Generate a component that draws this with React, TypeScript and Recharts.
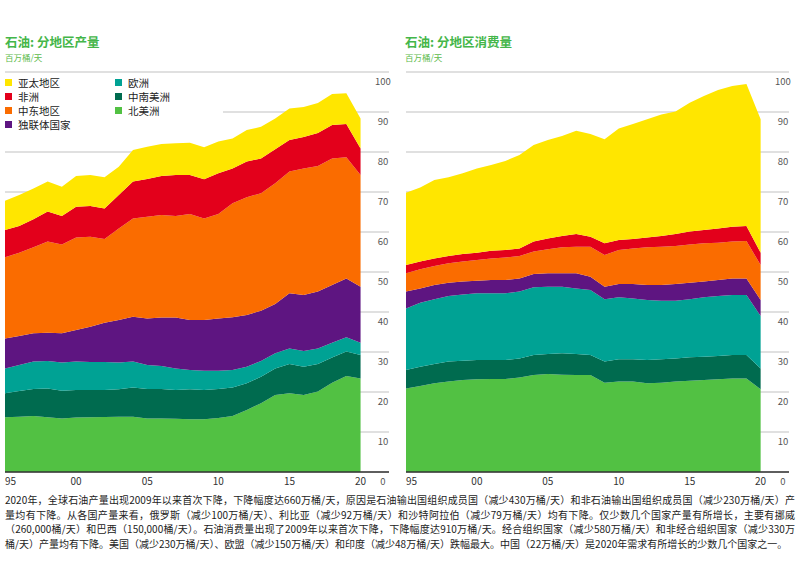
import React from 'react';
import { AreaChart, Area, XAxis, YAxis, CartesianGrid } from 'recharts';

// 1995 – 2020, million barrels per day
const years = [
  1995, 1996, 1997, 1998, 1999, 2000, 2001, 2002, 2003, 2004, 2005, 2006, 2007,
  2008, 2009, 2010, 2011, 2012, 2013, 2014, 2015, 2016, 2017, 2018, 2019, 2020,
];

const regions = ['北美洲', '中南美洲', '欧洲', '独联体国家', '中东地区', '非洲', '亚太地区'];
const regionKeys = ['na', 'sca', 'eu', 'cis', 'me', 'af', 'ap'];
const regionColors = ['#52c143', '#006b4f', '#00a294', '#5e1581', '#fa6c00', '#e3001b', '#ffe600'];

const prodNorthAmerica = [13.7, 13.8, 14.0, 13.7, 13.4, 13.6, 13.7, 13.75, 13.8, 13.8, 13.4, 13.4, 13.3, 13.2, 13.2, 13.5, 14.0, 15.5, 17.2, 19.25, 19.7, 19.25, 20.1, 22.3, 24.0, 23.4];
const prodSouthCentral = [6.0, 6.45, 6.75, 7.2, 6.9, 6.9, 6.8, 6.75, 6.9, 7.3, 7.35, 7.35, 7.2, 7.5, 7.3, 7.25, 7.1, 6.7, 6.6, 6.65, 7.3, 7.05, 6.9, 6.3, 6.1, 5.85];
const prodEurope = [6.2, 6.5, 6.85, 6.85, 7.1, 7.1, 7.0, 7.0, 6.7, 6.5, 6.0, 5.75, 5.4, 4.8, 4.8, 4.55, 4.4, 4.1, 3.95, 3.8, 3.9, 3.95, 3.9, 3.7, 3.6, 3.05];
const prodCis = [7.5, 7.25, 7.1, 7.05, 7.3, 7.9, 8.8, 9.8, 10.6, 11.2, 11.65, 12.1, 12.7, 12.5, 12.7, 13.1, 13.2, 12.95, 12.55, 12.3, 13.8, 14.0, 14.2, 14.45, 14.7, 14.0];
const prodMiddleEast = [20.3, 20.8, 21.5, 22.8, 22.2, 23.1, 22.5, 20.95, 22.9, 24.6, 25.4, 25.65, 25.4, 26.5, 25.4, 26.1, 28.5, 29.45, 29.4, 30.2, 30.4, 31.65, 31.4, 31.65, 30.3, 27.95];
const prodAfrica = [6.8, 6.7, 7.0, 7.5, 7.1, 7.7, 7.7, 7.65, 8.35, 9.2, 9.45, 9.75, 10.25, 9.75, 9.8, 10.2, 8.7, 8.9, 8.7, 8.5, 7.9, 7.85, 8.25, 8.35, 8.3, 6.65];
const prodAsiaPacific = [7.3, 7.75, 7.7, 7.5, 7.3, 7.7, 7.75, 7.8, 7.05, 7.9, 8.05, 8.0, 7.95, 8.05, 8.0, 7.9, 7.5, 7.9, 7.9, 7.7, 7.9, 7.5, 7.5, 7.75, 7.7, 7.5];

const consNorthAmerica = [20.9, 21.5, 22.2, 22.6, 23.0, 23.2, 23.25, 23.25, 23.6, 24.25, 24.5, 24.3, 24.25, 24.25, 22.3, 22.6, 22.6, 22.2, 22.3, 22.6, 22.8, 23.0, 23.2, 23.4, 23.4, 20.7];
const consSouthCentral = [4.6, 4.8, 4.8, 5.0, 4.8, 4.8, 4.75, 4.75, 4.8, 5.0, 5.0, 5.4, 5.25, 5.0, 5.3, 5.6, 5.6, 5.8, 5.9, 5.8, 5.9, 5.8, 5.8, 5.85, 5.85, 5.2];
const consEurope = [15.4, 16.0, 16.2, 16.4, 16.6, 16.7, 16.7, 16.7, 16.7, 16.95, 16.8, 16.6, 16.4, 16.25, 15.6, 15.5, 15.2, 15.0, 14.6, 14.4, 14.5, 14.9, 15.0, 15.0, 15.0, 13.1];
const consCis = [4.2, 3.6, 3.55, 3.3, 3.2, 3.1, 3.3, 3.3, 3.3, 3.3, 3.4, 3.4, 3.8, 3.3, 3.1, 3.3, 3.6, 3.75, 3.95, 4.2, 4.1, 3.9, 4.0, 4.15, 4.15, 4.0];
const consMiddleEast = [4.6, 4.8, 4.75, 4.9, 5.0, 5.2, 5.4, 5.6, 5.6, 5.6, 6.0, 6.5, 6.6, 7.5, 7.95, 8.5, 8.9, 9.45, 9.55, 9.5, 9.6, 9.6, 9.3, 9.2, 9.35, 8.75];
const consAfrica = [2.05, 1.9, 1.9, 1.8, 1.9, 1.8, 1.9, 1.9, 1.9, 2.5, 2.7, 2.8, 3.2, 2.5, 2.95, 2.5, 2.35, 2.4, 2.7, 3.0, 3.2, 3.3, 3.6, 3.7, 3.75, 3.05];
const consAsiaPacific = [18.05, 18.5, 19.6, 19.7, 20.2, 21.1, 21.45, 22.25, 23.35, 24.15, 24.6, 25.0, 25.8, 25.7, 26.0, 27.9, 28.75, 29.6, 30.4, 30.6, 32.2, 33.5, 34.6, 35.2, 35.5, 33.4];

const xTicks = [1995, 2000, 2005, 2010, 2015, 2020];
const yTicks = [0, 10, 20, 30, 40, 50, 60, 70, 80, 90, 100];

const legendLeft = ['亚太地区', '非洲', '中东地区', '独联体国家'];
const legendRight = ['欧洲', '中南美洲', '北美洲'];

const noteLines = [
  '2020年，全球石油产量出现2009年以来首次下降，下降幅度达660万桶/天，原因是石油输出国组织成员国（减少430万桶/天）和非石油输出国组织成员国（减少230万桶/天）产',
  '量均有下降。从各国产量来看，俄罗斯（减少100万桶/天）、利比亚（减少92万桶/天）和沙特阿拉伯（减少79万桶/天）均有下降。仅少数几个国家产量有所增长，主要有挪威',
  '（260,000桶/天）和巴西（150,000桶/天）。石油消费量出现了2009年以来首次下降，下降幅度达910万桶/天。经合组织国家（减少580万桶/天）和非经合组织国家（减少330万',
  '桶/天）产量均有下降。美国（减少230万桶/天）、欧盟（减少150万桶/天）和印度（减少48万桶/天）跌幅最大。中国（22万桶/天）是2020年需求有所增长的少数几个国家之一。',
];

const buildRows = (series: number[][]) =>
  years.map((year, i) => {
    const row: Record<string, number> = { year };
    regionKeys.forEach((k, j) => {
      row[k] = series[j][i];
    });
    return row;
  });

const productionData = buildRows([
  prodNorthAmerica, prodSouthCentral, prodEurope, prodCis, prodMiddleEast, prodAfrica, prodAsiaPacific,
]);
const consumptionData = buildRows([
  consNorthAmerica, consSouthCentral, consEurope, consCis, consMiddleEast, consAfrica, consAsiaPacific,
]);

const FONT = '"Noto Sans CJK SC", "Noto Sans", sans-serif';
const colorOf = (name: string) => regionColors[regions.indexOf(name)];

const XTick = (props: any) => {
  const { x, y, payload } = props;
  const first = payload.value === 1995;
  return (
    <text x={x} y={y} dy="0.71em" textAnchor={first ? 'start' : 'middle'} fontSize={10} fill="#333" fontFamily={FONT}>
      {String(payload.value).slice(2)}
    </text>
  );
};

// labels sit just under their gridline, near the right edge of the plot
const YTick = (props: any) => {
  const { y, payload, plotRight } = props;
  return (
    <text x={plotRight - 6} y={y + 9} dominantBaseline="central" textAnchor="middle" fontSize={9.5} fill="#555" fontFamily={FONT}>
      {payload.value}
    </text>
  );
};

const StackChart = ({ data, left }: { data: any[]; left: number }) => {
  const marginLeft = left ? 6 : 5;
  const marginRight = 11;
  const plotRight = 400 - marginRight;
  return (
    <div style={{ position: 'absolute', left, top: 0 }}>
      <AreaChart width={400} height={500} data={data} margin={{ top: 72, right: marginRight, left: marginLeft, bottom: 0 }}>
        <CartesianGrid vertical={false} stroke="#d6d6d6" strokeWidth={1.5} />
        <XAxis
          dataKey="year"
          type="number"
          domain={[1995, 2022]}
          ticks={xTicks}
          interval={0}
          height={28}
          tick={<XTick />}
          tickSize={4}
          tickMargin={2}
          tickLine={false}
          axisLine={{ stroke: '#333', strokeWidth: 1.5 }}
        />
        <YAxis
          orientation="right"
          mirror
          width={30}
          domain={[0, 100]}
          ticks={yTicks}
          interval={0}
          tick={<YTick plotRight={plotRight} />}
          tickLine={false}
          axisLine={false}
        />
        {regionKeys.map((k, i) => (
          <Area
            key={k}
            type="linear"
            dataKey={k}
            stackId="s"
            stroke="none"
            fill={regionColors[i]}
            fillOpacity={1}
            isAnimationActive={false}
          />
        ))}
      </AreaChart>
    </div>
  );
};

const LegendItem = ({ name }: { name: string }) => (
  <div style={{ display: 'flex', alignItems: 'center', height: 13.8 }}>
    <span style={{ width: 7, height: 7, background: colorOf(name), marginRight: 6 }} />
    <span>{name}</span>
  </div>
);

export default function App() {
  return (
    <div style={{ position: 'absolute', left: 0, top: 0, width: 800, height: 561, background: '#fff', fontFamily: FONT, overflow: 'hidden' }}>
      <StackChart data={productionData} left={0} />
      <StackChart data={consumptionData} left={400} />

      <div style={{ position: 'absolute', left: 5, top: 35, color: '#44b649', fontSize: 12.5, fontWeight: 700, lineHeight: '13px' }}>
        石油: 分地区产量
      </div>
      <div style={{ position: 'absolute', left: 5, top: 52, color: '#5dbb4c', fontSize: 8.5, lineHeight: '10px' }}>百万桶/天</div>
      <div style={{ position: 'absolute', left: 405, top: 35, color: '#44b649', fontSize: 12.5, fontWeight: 700, lineHeight: '13px' }}>
        石油: 分地区消费量
      </div>
      <div style={{ position: 'absolute', left: 405, top: 52, color: '#5dbb4c', fontSize: 8.5, lineHeight: '10px' }}>百万桶/天</div>

      <div style={{ position: 'absolute', left: 0, top: 76, width: 223, height: 60, background: '#fff', fontSize: 10.5, color: '#222' }}>
        <div style={{ position: 'absolute', left: 5, top: 0 }}>
          {legendLeft.map((n) => <LegendItem key={n} name={n} />)}
        </div>
        <div style={{ position: 'absolute', left: 115, top: 0 }}>
          {legendRight.map((n) => <LegendItem key={n} name={n} />)}
        </div>
      </div>

      <div style={{ position: 'absolute', left: 5, top: 493, width: 790, fontSize: 10, color: '#222', lineHeight: '14.7px' }}>
        {noteLines.map((line, i) => (
          <div key={i} style={{ textAlign: 'justify', textAlignLast: i < noteLines.length - 1 ? 'justify' : 'left', whiteSpace: 'nowrap' }}>
            {line}
          </div>
        ))}
      </div>
    </div>
  );
}
